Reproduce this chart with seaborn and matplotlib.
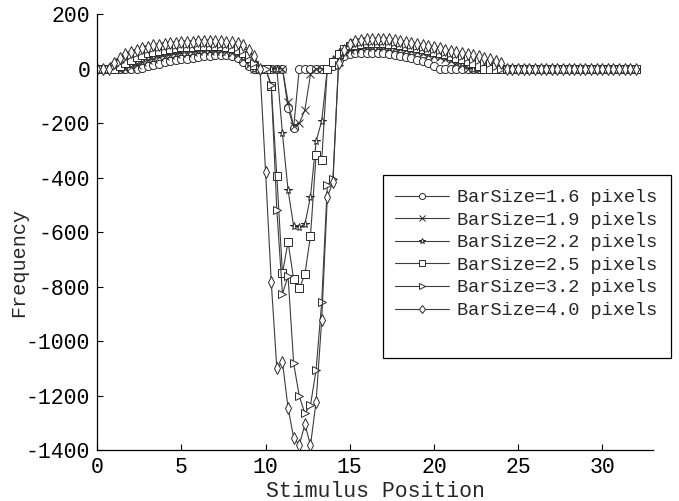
import numpy as np
import matplotlib
matplotlib.use("Agg")
import matplotlib.pyplot as plt
from matplotlib.patches import Rectangle
import seaborn as sns

# Stimulus positions (0 .. 32 in steps of 1/3)
positions = np.linspace(0, 32, 97)

bar_labels = [
    "BarSize=1.6 pixels",
    "BarSize=1.9 pixels",
    "BarSize=2.2 pixels",
    "BarSize=2.5 pixels",
    "BarSize=3.2 pixels",
    "BarSize=4.0 pixels",
]
bar_markers = ["o", "x", "*", "s", ">", "d"]

freq_16 = [
    0, 0, 0, 0, 0, 0, 0, 0, 3, 8,
    13, 18, 23, 27, 31, 34, 37, 40, 43, 46,
    48, 50, 51, 50, 47, 40, 26, 8, 0, 0,
    0, 0, 0, 0, -144, -217, 0, 0, 0, 0,
    0, 0, 8, 30, 45, 52, 56, 58, 59, 59,
    58, 56, 53, 50, 46, 42, 38, 33, 27, 20,
    11, 0, 0, 0, 0, 0, 0, 0, 0, 0,
    0, 0, 0, 0, 0, 0, 0, 0, 0, 0,
    0, 0, 0, 0, 0, 0, 0, 0, 0, 0,
    0, 0, 0, 0, 0, 0, 0,
]
freq_19 = [
    0, 0, 0, 0, 0, 0, 6, 15, 23, 30,
    36, 41, 46, 50, 53, 56, 59, 61, 63, 64,
    65, 65, 64, 62, 58, 50, 35, 15, 0, 0,
    0, 0, 0, 0, -122, -212, -201, -152, -21, 0,
    0, 0, 20, 45, 60, 68, 73, 76, 78, 79,
    79, 78, 76, 74, 71, 68, 64, 60, 56, 51,
    46, 41, 35, 29, 22, 14, 0, 0, 0, 0,
    0, 0, 0, 0, 0, 0, 0, 0, 0, 0,
    0, 0, 0, 0, 0, 0, 0, 0, 0, 0,
    0, 0, 0, 0, 0, 0, 0,
]
freq_22 = [
    0, 0, 0, 0, 0, 8, 18, 27, 35, 42,
    48, 53, 57, 61, 64, 67, 69, 71, 72, 73,
    74, 74, 73, 71, 67, 58, 42, 20, 0, 0,
    0, 0, 0, -238, -446, -578, -582, -572, -470, -266,
    -193, 0, 35, 60, 72, 79, 84, 87, 88, 88,
    87, 86, 84, 81, 78, 75, 71, 67, 62, 57,
    52, 47, 41, 35, 28, 21, 12, 0, 0, 0,
    0, 0, 0, 0, 0, 0, 0, 0, 0, 0,
    0, 0, 0, 0, 0, 0, 0, 0, 0, 0,
    0, 0, 0, 0, 0, 0, 0,
]
freq_25 = [
    0, 0, 0, 0, 10, 22, 33, 42, 50, 56,
    62, 66, 70, 73, 76, 78, 80, 81, 82, 83,
    83, 83, 82, 80, 77, 70, 58, 38, 12, 0,
    0, -65, -394, -752, -636, -774, -807, -755, -613, -317,
    -336, 0, 25, 55, 72, 82, 88, 92, 94, 95,
    95, 94, 92, 90, 87, 84, 80, 76, 72, 67,
    62, 57, 52, 46, 40, 34, 27, 20, 11, 0,
    0, 0, 0, 0, 0, 0, 0, 0, 0, 0,
    0, 0, 0, 0, 0, 0, 0, 0, 0, 0,
    0, 0, 0, 0, 0, 0, 0,
]
freq_32 = [
    0, 0, 0, 10, 25, 38, 50, 58, 65, 71,
    76, 80, 83, 86, 88, 90, 91, 92, 93, 93,
    93, 92, 91, 89, 86, 80, 70, 50, 20, 0,
    0, -60, -519, -827, -762, -1082, -1202, -1266, -1235, -1106,
    -856, -428, -405, 15, 60, 82, 93, 98, 101, 102,
    102, 101, 100, 98, 95, 92, 88, 84, 80, 76,
    71, 67, 62, 57, 52, 47, 42, 37, 32, 26,
    19, 10, 0, 0, 0, 0, 0, 0, 0, 0,
    0, 0, 0, 0, 0, 0, 0, 0, 0, 0,
    0, 0, 0, 0, 0, 0, 0,
]
freq_40 = [
    0, 0, 0, 20, 38, 52, 62, 70, 76, 81,
    85, 88, 91, 93, 95, 97, 98, 99, 100, 100,
    101, 100, 100, 99, 97, 93, 85, 70, 45, 0,
    -381, -782, -1100, -1076, -1245, -1355, -1382, -1306, -1382, -1223,
    -922, -473, -415, 20, 70, 90, 100, 105, 108, 110,
    110, 110, 109, 106, 102, 99, 95, 91, 87, 83,
    78, 74, 70, 65, 61, 57, 53, 49, 45, 40,
    35, 29, 20, 0, 0, 0, 0, 0, 0, 0,
    0, 0, 0, 0, 0, 0, 0, 0, 0, 0,
    0, 0, 0, 0, 0, 0, 0,
]
all_series = [freq_16, freq_19, freq_22, freq_25, freq_32, freq_40]

x_ticks = [0, 5, 10, 15, 20, 25, 30]
y_ticks = [-1400, -1200, -1000, -800, -600, -400, -200, 0, 200]

sns.set_style("ticks")
plt.rcParams["font.family"] = ["Liberation Mono", "DejaVu Sans Mono"]
plt.rcParams["axes.unicode_minus"] = False
FS = 15.5
LEG_FS = 13.4

W, H = 679, 501
fig = plt.figure(figsize=(W / 100, H / 100), dpi=100)
ax = fig.add_axes([0.1433, 0.1018, 0.818, 0.870])

line_col = "#3c3c3c"
for label, marker, values in zip(bar_labels, bar_markers, all_series):
    sns.lineplot(
        x=positions, y=values, ax=ax, label=label,
        color=line_col, linewidth=0.8,
        marker=marker, markersize=5.8,
        markerfacecolor="white", markeredgecolor="#2a2a2a",
        markeredgewidth=0.7,
    )

ax.set_xlim(0, 33)
ax.set_ylim(-1400, 200)
ax.set_xticks(x_ticks)
ax.set_yticks(y_ticks)
ax.tick_params(direction="in", length=4, width=0.8, labelsize=FS,
               colors="black", pad=5)
for side in ("top", "right"):
    ax.spines[side].set_visible(False)
for side in ("left", "bottom"):
    ax.spines[side].set_linewidth(0.9)
    ax.spines[side].set_color("black")

ax.set_xlabel("Stimulus Position", fontsize=FS, labelpad=2)
ax.set_ylabel("Frequency", fontsize=14.5)
ax.yaxis.set_label_coords(-0.124, 0.43)

# legend box: a plain rectangle with the entries placed inside it
ax.add_patch(Rectangle(
    (383 / W, 1 - 358 / H), (671 - 383) / W, (358 - 175) / H,
    transform=fig.transFigure, facecolor="white", edgecolor="black",
    linewidth=0.9, zorder=4, clip_on=False,
))
leg = ax.legend(
    loc="upper left", bbox_to_anchor=(395 / W, 1 - 189 / H),
    bbox_transform=fig.transFigure, borderaxespad=0, borderpad=0,
    fontsize=LEG_FS, frameon=False, handlelength=2.9, handletextpad=0.45,
    labelspacing=0.3, markerscale=0.75,
)
leg.set_zorder(6)

fig.savefig("out.png", dpi=100)
